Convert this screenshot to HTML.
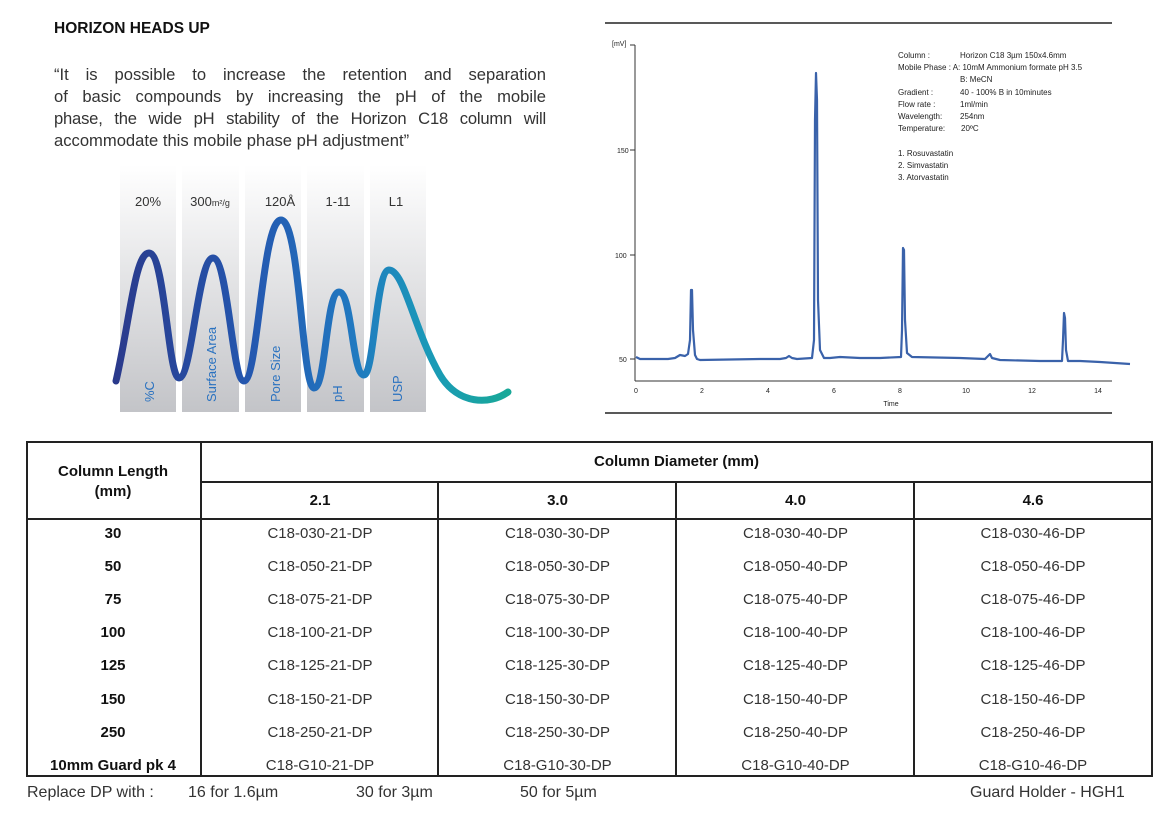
<!DOCTYPE html>
<html><head><meta charset="utf-8"><style>
body{margin:0;width:1172px;height:817px;background:#fff;position:relative;overflow:hidden;font-family:"Liberation Sans",Arial,sans-serif;color:#222}
.a{position:absolute}
.c{position:absolute;text-align:center;font-size:15px;color:#333}
.b{font-weight:bold;color:#111}
.p{position:absolute;left:54px;width:492px;font-size:16.6px;color:#333;text-align:justify;text-align-last:justify;white-space:nowrap}
</style></head><body>
<div class="a b" style="left:54px;top:20px;font-size:15.5px">HORIZON HEADS UP</div>
<div class="p" style="top:65px">“It is possible to increase the retention and separation</div>
<div class="p" style="top:87px">of basic compounds by increasing the pH of the mobile</div>
<div class="p" style="top:109px;letter-spacing:-0.2px">phase, the wide pH stability of the Horizon C18 column will</div>
<div class="p" style="top:131px;text-align-last:left">accommodate this mobile phase pH adjustment”</div>

<svg class="a" style="left:0;top:0" width="600" height="430">
<defs>
<linearGradient id="g" x1="0" y1="0" x2="0" y2="1"><stop offset="0" stop-color="#fff"/><stop offset="1" stop-color="#c3c4c8"/></linearGradient>
<linearGradient id="w" x1="0" y1="0" x2="1" y2="0"><stop offset="0" stop-color="#2a3a8c"/><stop offset="0.35" stop-color="#2458b0"/><stop offset="0.6" stop-color="#2178c0"/><stop offset="0.8" stop-color="#1a9ab8"/><stop offset="1" stop-color="#19a898"/></linearGradient>
</defs>
<rect x="120" y="165" width="56" height="247" fill="url(#g)"/>
<rect x="182" y="165" width="57" height="247" fill="url(#g)"/>
<rect x="245" y="165" width="56" height="247" fill="url(#g)"/>
<rect x="307" y="165" width="57" height="247" fill="url(#g)"/>
<rect x="370" y="165" width="56" height="247" fill="url(#g)"/>
<g font-size="13" fill="#333" text-anchor="middle">
<text x="148" y="206">20%</text><text x="210" y="206">300<tspan font-size="9">m²/g</tspan></text><text x="280" y="206">120Å</text><text x="338" y="206">1-11</text><text x="396" y="206">L1</text>
</g>
<path d="M116,381 C130,320 135,253 149,253 C165,253 168,378 179,378 C192,378 198,258 213,258 C228,258 232,381 244,381 C258,381 262,220 281,220 C300,220 302,388 314,388 C326,388 326,292 339,292 C352,292 352,375 364,375 C374,375 376,270 389,270 C404,270 414,330 440,375 C458,405 490,405 508,392" fill="none" stroke="url(#w)" stroke-width="7" stroke-linecap="round"/>
<g font-size="13" fill="#2a72c0">
<text transform="translate(154,402) rotate(-90)">%C</text>
<text transform="translate(216,402) rotate(-90)">Surface Area</text>
<text transform="translate(280,402) rotate(-90)">Pore Size</text>
<text transform="translate(342,402) rotate(-90)">pH</text>
<text transform="translate(402,402) rotate(-90)">USP</text>
</g>
</svg>

<svg class="a" style="left:0;top:0" width="1172" height="430">
<line x1="605" y1="23" x2="1112" y2="23" stroke="#222" stroke-width="1.5"/>
<line x1="605" y1="413" x2="1112" y2="413" stroke="#222" stroke-width="1.5"/>
<line x1="635" y1="45" x2="635" y2="381" stroke="#333"/>
<line x1="635" y1="381" x2="1112" y2="381" stroke="#333"/>
<g stroke="#333"><line x1="630" y1="45" x2="635" y2="45"/><line x1="630" y1="150" x2="635" y2="150"/><line x1="630" y1="255" x2="635" y2="255"/><line x1="630" y1="359" x2="635" y2="359"/></g>
<g font-size="7" fill="#222">
<text x="612" y="46">[mV]</text><text x="617" y="153">150</text><text x="615" y="258">100</text><text x="619" y="362">50</text>
</g>
<g font-size="7" fill="#222" text-anchor="middle">
<text x="636" y="393">0</text><text x="702" y="393">2</text><text x="768" y="393">4</text><text x="834" y="393">6</text><text x="900" y="393">8</text><text x="966" y="393">10</text><text x="1032" y="393">12</text><text x="1098" y="393">14</text><text x="891" y="406">Time</text>
</g>
<path d="M636,357 L640,359 L668,359 L675,358 L680,355 L685,356 L688,354 L690,340 L691,290 L692,290 L693,330 L695,355 L697,359 L700,360 L760,359 L780,359 L786,358 L789,356 L792,358 L797,359 L812,358 L814,340 L815,120 L816,73 L817,100 L818,300 L820,350 L824,358 L830,358 L840,357 L860,358 L880,358 L901,357 L902,330 L903,248 L904,250 L905,320 L907,353 L912,357 L960,358 L985,359 L988,356 L990,354 L992,358 L1000,360 L1040,361 L1062,361 L1063,340 L1064,313 L1065,318 L1066,350 L1068,361 L1080,361 L1100,362 L1130,364" fill="none" stroke="#3a62aa" stroke-width="2.2" stroke-linejoin="round"/>
<g font-size="8" fill="#222">
<text x="898" y="58">Column :</text><text x="960" y="58">Horizon C18 3µm 150x4.6mm</text>
<text x="898" y="70">Mobile Phase : A: 10mM Ammonium formate pH 3.5</text>
<text x="960" y="82">B:  MeCN</text>
<text x="898" y="95">Gradient :</text><text x="960" y="95">40 - 100% B in 10minutes</text>
<text x="898" y="107">Flow rate :</text><text x="960" y="107">1ml/min</text>
<text x="898" y="119">Wavelength:</text><text x="960" y="119">254nm</text>
<text x="898" y="131">Temperature:</text><text x="961" y="131">20ºC</text>
<text x="898" y="156">1. Rosuvastatin</text>
<text x="898" y="168">2. Simvastatin</text>
<text x="898" y="180">3. Atorvastatin</text>
</g>
</svg>

<div class="a" style="left:26px;top:441px;width:1123px;height:332px;border:2px solid #222"></div>
<div class="a" style="left:200px;top:441px;width:2px;height:334px;background:#222"></div>
<div class="a" style="left:200px;top:481px;width:951px;height:2px;background:#222"></div>
<div class="a" style="left:26px;top:518px;width:1125px;height:2px;background:#222"></div>
<div class="a" style="left:437px;top:481px;width:2px;height:294px;background:#222"></div>
<div class="a" style="left:675px;top:481px;width:2px;height:294px;background:#222"></div>
<div class="a" style="left:913px;top:481px;width:2px;height:294px;background:#222"></div>

<div class="c b" style="left:26px;top:462px;width:174px;line-height:20px">Column Length<br>(mm)</div>
<div class="c b" style="left:202px;top:453px;width:949px">Column Diameter (mm)</div>
<div class="c b" style="left:202px;top:492px;width:236px">2.1</div>
<div class="c b" style="left:439px;top:492px;width:237px">3.0</div>
<div class="c b" style="left:677px;top:492px;width:237px">4.0</div>
<div class="c b" style="left:915px;top:492px;width:236px">4.6</div>

<div id="rows"></div>
<script>
var L=["30","50","75","100","125","150","250","10mm Guard pk 4"],C=["030","050","075","100","125","150","250","G10"],D=["21","30","40","46"],X=[202,439,677,915],W=[236,237,237,236],h="";
for(var i=0;i<8;i++){var y=525+i*33.1;
h+='<div class="c b" style="left:26px;top:'+y+'px;width:174px">'+L[i]+'</div>';
for(var j=0;j<4;j++)h+='<div class="c" style="left:'+X[j]+'px;top:'+y+'px;width:'+W[j]+'px">C18-'+C[i]+'-'+D[j]+'-DP</div>';}
document.getElementById("rows").innerHTML=h;
</script>
<div class="a" style="left:27px;top:784px;font-size:16px;color:#333">Replace DP with :</div>
<div class="a" style="left:188px;top:784px;font-size:16px;color:#333">16 for 1.6µm</div>
<div class="a" style="left:356px;top:784px;font-size:16px;color:#333">30 for 3µm</div>
<div class="a" style="left:520px;top:784px;font-size:16px;color:#333">50 for 5µm</div>
<div class="a" style="left:970px;top:784px;font-size:16px;color:#333">Guard Holder - HGH1</div>
</body></html>
